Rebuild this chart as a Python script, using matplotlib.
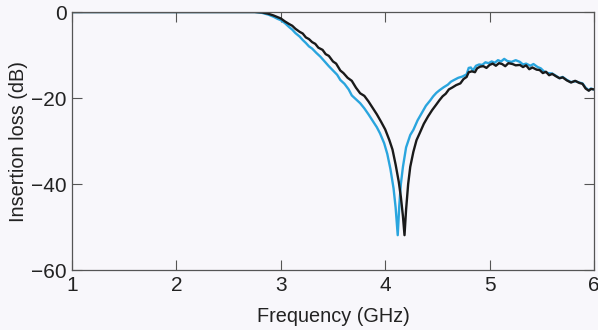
import matplotlib
matplotlib.use("Agg")
import matplotlib.pyplot as plt

# measured curve (black)
freq_black = [1.0, 2.0, 2.6, 2.75, 2.82, 2.88, 2.93, 2.97, 3.0, 3.04, 3.08, 3.11, 3.14, 3.18,
              3.21, 3.24, 3.27, 3.30, 3.33, 3.36, 3.40, 3.43, 3.46, 3.50, 3.53, 3.57, 3.60,
              3.64, 3.68, 3.72, 3.76, 3.80, 3.84, 3.88, 3.92, 3.96, 4.00, 4.04, 4.07, 4.10,
              4.13, 4.15, 4.17, 4.185, 4.20, 4.22, 4.24, 4.27, 4.30, 4.33, 4.37, 4.41, 4.45,
              4.49, 4.52, 4.55, 4.58, 4.61, 4.64, 4.68, 4.72, 4.75, 4.78, 4.80, 4.83, 4.86,
              4.88, 4.91, 4.94, 4.97, 5.00, 5.03, 5.06, 5.09, 5.12, 5.15, 5.18, 5.22, 5.25,
              5.29, 5.32, 5.35, 5.38, 5.41, 5.45, 5.48, 5.51, 5.54, 5.57, 5.60, 5.64, 5.67,
              5.70, 5.74, 5.78, 5.82, 5.86, 5.89, 5.92, 5.95, 5.97, 6.0]
loss_black = [0, 0, 0, 0, -0.1, -0.4, -0.8, -1.2, -1.5, -2.2, -2.8, -3.2, -3.9, -4.6,
              -5.0, -5.9, -6.3, -7.0, -7.4, -8.3, -8.8, -9.8, -10.2, -11.5, -12.0, -13.6, -14.2,
              -15.3, -16.0, -17.6, -18.9, -19.5, -20.8, -22.3, -23.8, -25.5, -27.3, -29.8, -32.0, -35.5,
              -39.5, -43.0, -47.5, -51.9, -46.0, -40.0, -36.0, -32.5, -29.8, -28.2, -26.0, -24.3, -22.8,
              -21.5, -20.5, -19.6, -19.0, -18.0, -17.6, -17.0, -16.6, -15.6, -15.1, -14.0, -13.8, -14.0,
              -13.1, -12.7, -12.6, -13.0, -12.3, -12.0, -12.5, -11.9, -12.1, -12.6, -11.9, -12.1, -12.4,
              -12.3, -12.8, -12.4, -13.3, -12.9, -13.4, -13.5, -14.2, -13.9, -14.7, -14.4, -15.0, -15.4,
              -15.2, -15.9, -16.4, -16.0, -16.5, -16.7, -17.8, -18.3, -17.9, -18.0]

# simulated curve (blue)
freq_blue = [1.0, 2.75, 2.82, 2.88, 2.93, 2.97, 3.0, 3.04, 3.08, 3.11, 3.14, 3.18, 3.21, 3.24,
             3.27, 3.30, 3.34, 3.38, 3.42, 3.46, 3.50, 3.54, 3.57, 3.61, 3.65, 3.68, 3.72,
             3.76, 3.80, 3.84, 3.88, 3.92, 3.95, 3.99, 4.02, 4.05, 4.08, 4.10, 4.12, 4.135,
             4.15, 4.17, 4.20, 4.24, 4.27, 4.31, 4.35, 4.39, 4.43, 4.46, 4.49, 4.52, 4.56,
             4.60, 4.63, 4.66, 4.70, 4.74, 4.78, 4.80, 4.82, 4.84, 4.87, 4.90, 4.93, 4.96,
             4.99, 5.02, 5.05, 5.08, 5.11, 5.14, 5.17, 5.21, 5.25, 5.29, 5.32, 5.35, 5.39,
             5.42, 5.46, 5.49, 5.52, 5.56, 5.60, 5.64, 5.67, 5.70, 5.74, 5.78, 5.82, 5.86,
             5.89, 5.92, 5.95, 5.97, 6.0]
loss_blue = [0, 0, -0.2, -0.6, -1.1, -1.6, -1.9, -2.6, -3.5, -4.1, -4.9, -5.7, -6.5, -7.2,
             -8.0, -8.5, -9.5, -10.4, -11.5, -12.6, -13.6, -14.6, -15.8, -16.7, -18.0, -19.4, -20.3,
             -21.2, -22.4, -23.8, -25.3, -26.8, -28.2, -30.5, -33.0, -36.5, -41.0, -45.5, -51.9, -45.0,
             -40.0, -36.0, -31.5, -28.6, -27.4, -25.2, -23.5, -21.8, -20.6, -19.6, -18.8, -18.2, -17.5,
             -16.9, -16.2, -15.8, -15.3, -15.0, -14.5, -13.0, -12.9, -13.6, -12.5, -12.2, -12.3, -11.7,
             -11.9, -11.5, -11.8, -11.2, -11.5, -10.9, -11.4, -11.6, -11.2, -11.6, -12.2, -12.0, -12.5,
             -12.1, -12.8, -13.1, -13.8, -14.2, -14.3, -14.9, -15.4, -15.1, -15.8, -16.3, -16.1, -16.4,
             -16.6, -17.6, -18.2, -17.8, -18.0]

x_ticks = [1, 2, 3, 4, 5, 6]
y_ticks = [-60, -40, -20, 0]

bg = "#f8f7fb"
plt.rcParams["font.family"] = ["Liberation Sans", "DejaVu Sans"]

fig = plt.figure(figsize=(5.98, 3.30), dpi=100, facecolor=bg)
ax = fig.add_axes([0.1204, 0.1818, 0.8729, 0.7818], facecolor=bg)

ax.plot(freq_blue, loss_blue, color="#2aa5de", linewidth=1.7)
ax.plot(freq_black, loss_black, color="#1a1a1a", linewidth=1.7)

ax.set_xlim(1, 6)
ax.set_ylim(-60, 0)
ax.set_xticks(x_ticks)
ax.set_yticks(y_ticks)
ax.tick_params(direction="in", top=True, right=True, length=7, width=0.8,
               color="#555555", labelsize=15, pad=4, labelcolor="#222222")
for s in ax.spines.values():
    s.set_color("#555555")
    s.set_linewidth(0.9)

ax.set_xlabel("Frequency (GHz)", fontsize=14.3, labelpad=9, color="#222222")
ax.set_ylabel("Insertion loss (dB)", fontsize=14.3, labelpad=2, color="#222222")

fig.savefig("out.png", dpi=100, facecolor=bg)
